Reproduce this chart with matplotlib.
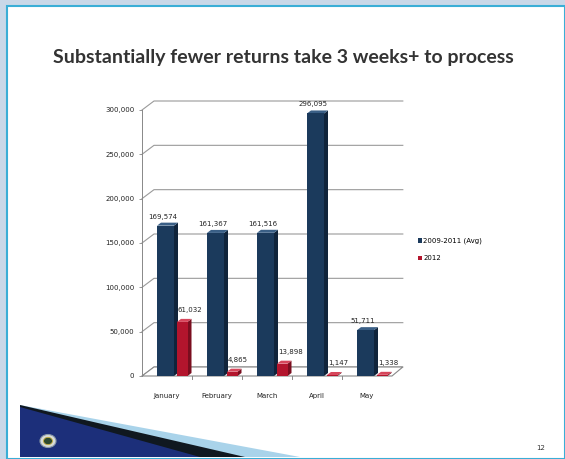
import matplotlib
matplotlib.use("Agg")
import matplotlib.pyplot as plt
from matplotlib.patches import Rectangle, Polygon, Circle

# ------------------------------------------------------------------
# data
# ------------------------------------------------------------------
months = ["January", "February", "March", "April", "May"]
avg_2009_2011 = [169574, 161367, 161516, 296095, 51711]
y2012 = [61032, 4865, 13898, 1147, 1338]
yticks = [0, 50000, 100000, 150000, 200000, 250000, 300000]
series_names = ["2009-2011 (Avg)", "2012"]

TITLE = "Substantially fewer returns take 3 weeks+ to process"

W, H = 565, 459
BLUE = ("#1b3a5c", "#10243b", "#3a5f86")   # front, side, top
RED = ("#b3152d", "#7a0e1f", "#d6465b")

YMAX = 330000
YPX = 266 / 300000          # pixels per unit on y
XPX = 50                    # pixels per category
BAR_DX, BAR_DY = 4 / XPX, 3 / YPX
WALL_DX, WALL_DY = 12 / XPX, 9 / YPX


def px(x, y):
    """slide pixel (top-left origin) -> figure fraction"""
    return x / W, 1 - y / H


fig = plt.figure(figsize=(W / 100, H / 100), dpi=100)
fig.patch.set_facecolor("#c9d8e8")

# slide card
fig.add_artist(Rectangle(px(7, H), (W - 7) / W, (H - 6) / H,
                         transform=fig.transFigure, facecolor="white",
                         edgecolor="#3aaed6", linewidth=1.5, zorder=0))

# bottom banner
banner = [
    ([(20, 405), (300, 457), (20, 457)], "#a9d3ea"),
    ([(20, 405), (245, 457), (20, 457)], "#101820"),
    ([(20, 407), (200, 457), (20, 457)], "#1c2f7a"),
]
for pts, col in banner:
    fig.add_artist(Polygon([px(*p) for p in pts], closed=True,
                           transform=fig.transFigure, facecolor=col,
                           edgecolor="none", zorder=1))
fig.add_artist(Circle(px(48, 441), 8 / W, transform=fig.transFigure,
                      facecolor="#d8dcd8", edgecolor="#8a9aa8", lw=0.8, zorder=2))
fig.add_artist(Circle(px(48, 441), 4.5 / W, transform=fig.transFigure,
                      facecolor="#2e4a30", edgecolor="#c8b040", lw=0.6, zorder=3))

fig.text(*px(283, 57), TITLE, ha="center", va="center", fontsize=14,
         fontweight="bold", family="Lato", color="#333333")
fig.text(*px(541, 448), "12", ha="center", va="center", fontsize=5, color="#333333")

# ------------------------------------------------------------------
# chart area
# ------------------------------------------------------------------
ax = fig.add_axes([142 / W, (H - 376) / H, 250 / W, YMAX * YPX / H])
ax.set_xlim(-0.5, len(months) - 0.5)
ax.set_ylim(0, YMAX)
ax.patch.set_alpha(0)
for s in ["top", "right", "bottom"]:
    ax.spines[s].set_visible(False)
ax.spines["left"].set_bounds(0, 300000)
ax.spines["left"].set_color("#888888")
ax.spines["left"].set_linewidth(0.7)

x_left, x_right = -0.5, len(months) - 0.5

# back-wall gridlines with perspective kink
for v in yticks:
    ax.plot([x_left, x_left + WALL_DX, x_right + WALL_DX * 0.9],
            [v, v + WALL_DY, v + WALL_DY], color="#9a9a9a", lw=0.8,
            clip_on=False, zorder=1)

# floor
ax.add_patch(Polygon([(x_left, 0), (x_right, 0),
                      (x_right + WALL_DX * 0.9, WALL_DY),
                      (x_left + WALL_DX, WALL_DY)], closed=True,
                     facecolor="white", edgecolor="#888888", lw=0.8,
                     clip_on=False, zorder=2))
for b in range(1, len(months)):
    ax.plot([b - 0.5, b - 0.5], [0, -3000], color="#888888", lw=0.7,
            clip_on=False, zorder=2)


def bar3d(x0, w, h, cols):
    front, side, top = cols
    ax.add_patch(Polygon([(x0 + w, 0), (x0 + w + BAR_DX, BAR_DY),
                          (x0 + w + BAR_DX, h + BAR_DY), (x0 + w, h)],
                         facecolor=side, edgecolor="none", zorder=3, clip_on=False))
    ax.add_patch(Polygon([(x0, h), (x0 + BAR_DX, h + BAR_DY),
                          (x0 + w + BAR_DX, h + BAR_DY), (x0 + w, h)],
                         facecolor=top, edgecolor="none", zorder=3, clip_on=False))
    return ax.add_patch(Rectangle((x0, 0), w, h, facecolor=front,
                                  edgecolor="none", zorder=3, clip_on=False))


handles = []
for i, (a, r) in enumerate(zip(avg_2009_2011, y2012)):
    hb = bar3d(i - 0.2, 0.34, a, BLUE)
    hr = bar3d(i + 0.2, 0.21, r, RED)
    ax.text(i - 0.08, a + 9 / YPX, f"{a:,}", ha="center", va="center",
            fontsize=5, color="#222222", zorder=5)
    ax.text(i + 0.22, r + 12 / YPX, f"{r:,}", ha="left", va="center",
            fontsize=5, color="#222222", zorder=5)
    if i == 0:
        handles = [hb, hr]

ax.set_yticks(yticks)
ax.set_yticklabels([f"{v:,}" for v in yticks], fontsize=5, color="#222222")
ax.tick_params(axis="y", length=2.5, width=0.6, color="#888888", pad=3)
ax.set_xticks(range(len(months)))
ax.set_xticklabels(months, fontsize=5, color="#222222")
ax.tick_params(axis="x", length=0, pad=12)

fig.legend(handles, series_names, loc="upper left",
           bbox_to_anchor=px(415, 235), frameon=False, fontsize=5,
           handlelength=0.6, handleheight=0.6, handletextpad=0.2,
           labelspacing=1.6, borderaxespad=0)

fig.savefig("out.png", dpi=100, facecolor=fig.get_facecolor())
